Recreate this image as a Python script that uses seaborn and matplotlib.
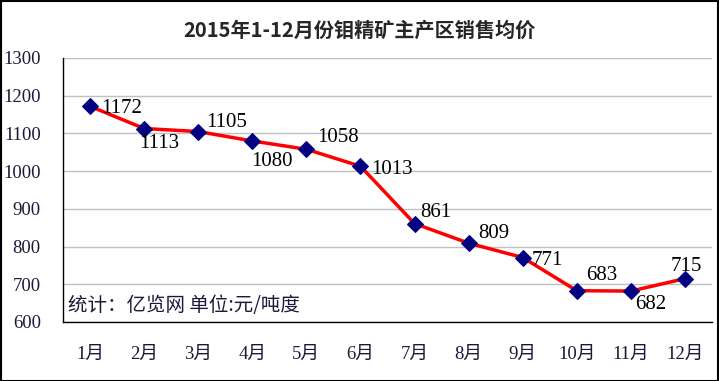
import numpy as np
import pandas as pd
import matplotlib
matplotlib.use("Agg")
import matplotlib.pyplot as plt
import seaborn as sns
from matplotlib.patches import Rectangle

months = ["1月", "2月", "3月", "4月", "5月", "6月", "7月", "8月", "9月", "10月", "11月", "12月"]
prices = [1172, 1113, 1105, 1080, 1058, 1013, 861, 809, 771, 683, 682, 715]
yticks = [600, 700, 800, 900, 1000, 1100, 1200, 1300]
title = "2015年1-12月份钼精矿主产区销售均价"
note = "统计：亿览网 单位:元/吨度"

sns.set_style("white")
plt.rcParams['font.family'] = ['Liberation Serif', 'Noto Sans CJK SC', 'DejaVu Sans']

df = pd.DataFrame({"pos": np.arange(len(months)), "price": prices})

fig = plt.figure(figsize=(7.19, 3.81), dpi=100)
ax = fig.add_axes([63/719, 1-322/381, (712-63)/719, (322-58)/381])

sns.lineplot(data=df, x="pos", y="price", ax=ax, color="#ff0000", linewidth=2.5,
             marker="D", markersize=8, markerfacecolor="#000080", markeredgecolor="#000080")

ax.set_xlim(-0.5, len(months) - 0.5)
ax.set_ylim(600, 1300)
ax.set_yticks(yticks)
ax.set_yticklabels([str(v) for v in yticks], fontsize=13.5, color="#1a1a3a")
ax.yaxis.grid(True, color="#c0c0c0", linewidth=1)
ax.set_axisbelow(True)
ax.set_xticks(np.arange(len(months)))
ax.set_xticklabels(months, fontsize=13.5, color="#1a1a3a")
ax.set_xticks(np.arange(len(months) + 1) - 0.5, minor=True)
ax.tick_params(axis="x", which="major", length=0, pad=17)
ax.tick_params(axis="x", which="minor", direction="in", length=5, width=1, color="black")
ax.tick_params(axis="y", direction="in", length=5, width=1, color="black", pad=16)
ax.set_xlabel("")
ax.set_ylabel("")
for s in ["top", "right"]:
    ax.spines[s].set_visible(False)
for s in ["left", "bottom"]:
    ax.spines[s].set_color("black")
    ax.spines[s].set_linewidth(1)

offsets = [(11, -2), (-5, -15), (8, 9), (-1, -21), (11, 12), (11, -3),
           (6, 11), (10, 10), (9, -3), (9, 15), (4, -13), (-14, 12)]
for i, (v, (dx, dy)) in enumerate(zip(prices, offsets)):
    ax.annotate(str(v), (i, v), xytext=(dx, dy), textcoords="offset pixels",
                ha="left", va="center", fontsize=15, color="black")

ax.text(0.008, (322-305)/264, note, transform=ax.transAxes, fontsize=14, color="#1a1a3a",
        family=['Noto Sans CJK SC', 'DejaVu Sans'], ha="left", va="center")

fig.text(0.5, 1-30/381, title, ha="center", va="center", fontsize=14.5, fontweight="bold",
         family=['Noto Sans CJK SC', 'DejaVu Sans'])

fig.patches.append(Rectangle((0.5/719, 0.5/381), 1-1.5/719, 1-1.5/381, transform=fig.transFigure,
                             fill=False, edgecolor="black", linewidth=1.5))

fig.savefig("out.png", dpi=100)
